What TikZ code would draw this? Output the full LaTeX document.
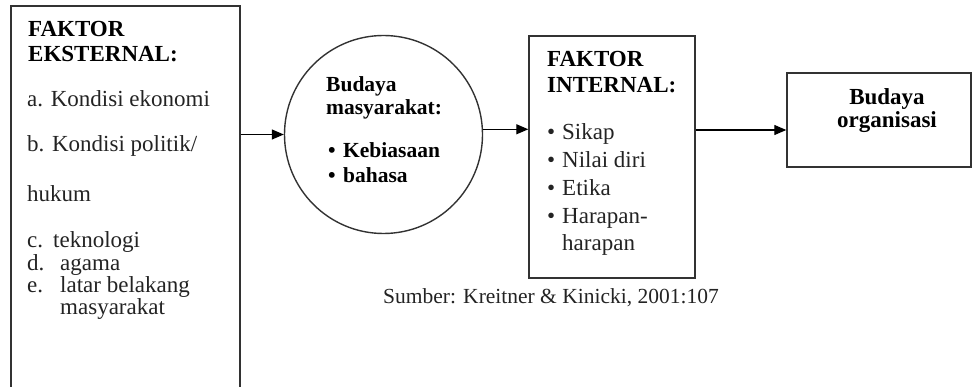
\documentclass[tikz,border=0pt]{standalone}
\usepackage{fontspec}
\setmainfont{Liberation Serif}
\usetikzlibrary{arrows.meta}
\definecolor{linec}{RGB}{50,50,50}
\definecolor{txtc}{RGB}{35,35,35}
\tikzset{
  boxline/.style={draw=linec, line width=1.4pt, inner sep=0pt, fill=none},
  arr/.style={draw=black, line width=1.2pt, -{Triangle[length=12pt,width=10pt]}},
  txt/.style={anchor=base west, inner sep=0pt, text=txtc, font=\fontsize{23}{23}\selectfont},
  btxt/.style={anchor=base west, inner sep=0pt, text=black, font=\fontsize{23}{23}\selectfont\bfseries},
  ctxt/.style={anchor=base west, inner sep=0pt, text=black, font=\fontsize{21.5}{21.5}\selectfont\bfseries},
  stxt/.style={anchor=base west, inner sep=0pt, text=txtc, font=\fontsize{21.5}{21.5}\selectfont},
}
\begin{document}
\begin{tikzpicture}[x=1pt,y=-1pt]
\useasboundingbox (0,0) rectangle (973,387);
\clip (0,0) rectangle (973,387);
% shapes
\node[boxline, rectangle, minimum width=229pt, minimum height=394pt] (ext) at (125.5,203) {};
\node[boxline, circle, minimum size=198pt] (bm) at (383.5,134.5) {};
\node[boxline, rectangle, minimum width=166pt, minimum height=242pt] (int) at (612,157) {};
\node[boxline, rectangle, minimum width=184pt, minimum height=94pt] (org) at (879,120) {};
% left box text
\node[btxt] (e1) at (28,37) {FAKTOR};
\node[btxt] (e2) at (28,62) {EKSTERNAL:};
\node[txt] (e3) at (27,107) {a. Kondisi ekonomi};
\node[txt] (e4) at (27,152) {b. Kondisi politik/};
\node[txt] (e5) at (27,202) {hukum};
\node[txt] (e6a) at (27,247) {c.};
\node[txt] (e6) at (53,247) {teknologi};
\node[txt] (e7a) at (27,270) {d.};
\node[txt] (e7) at (60,270) {agama};
\node[txt] (e8a) at (27,292) {e.};
\node[txt] (e8) at (60,292) {latar belakang};
\node[txt] (e9) at (60,314) {masyarakat};
% circle text
\node[ctxt] (c1) at (326,92) {Budaya};
\node[ctxt] (c2) at (326,115) {masyarakat:};
\node[ctxt] (c3a) at (328,158) {•};
\node[ctxt] (c3) at (343,158) {Kebiasaan};
\node[ctxt] (c4a) at (328,183) {•};
\node[ctxt] (c4) at (343,183) {bahasa};
% internal box text
\node[btxt] (i1) at (547,67) {FAKTOR};
\node[btxt] (i2) at (547,93) {INTERNAL:};
\node[txt] (i3a) at (547,140) {•};
\node[txt] (i3) at (562,140) {Sikap};
\node[txt] (i4a) at (547,168) {•};
\node[txt] (i4) at (562,168) {Nilai diri};
\node[txt] (i5a) at (547,196) {•};
\node[txt] (i5) at (562,196) {Etika};
\node[txt] (i6a) at (547,224) {•};
\node[txt] (i6) at (562,224) {Harapan-};
\node[txt] (i7) at (562,251) {harapan};
% right box text
\node[btxt, anchor=base] (o1) at (887,105) {Budaya};
\node[btxt, anchor=base] (o2) at (887,128) {organisasi};
% source
\node[stxt] (src) at (383,303) {Sumber: Kreitner \& Kinicki, 2001:107};
% arrows
\draw[arr] (bm.west -| ext.east) -- (bm.west);
\draw[arr] (bm.3) -- (bm.3 -| int.west);
\coordinate (a3) at (0,130);
\draw[arr] (a3 -| int.east) -- (a3 -| org.west);
\end{tikzpicture}
\end{document}
